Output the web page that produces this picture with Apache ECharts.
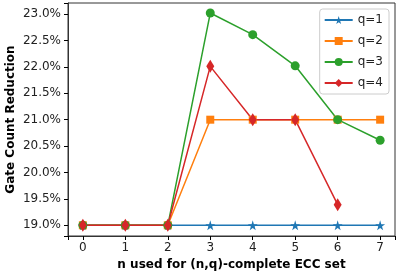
<!DOCTYPE html>
<html>
<head>
<meta charset="utf-8">
<script src="https://cdn.jsdelivr.net/npm/echarts@6/dist/echarts.min.js"></script>
<style>html,body{margin:0;padding:0;background:#fff}#c{width:399px;height:276px}</style>
</head>
<body>
<div id="c"></div>
<script>
var nValues = [0, 1, 2, 3, 4, 5, 6, 7];
var q1 = [19.0, 19.0, 19.0, 19.0, 19.0, 19.0, 19.0, 19.0];
var q2 = [19.0, 19.0, 19.0, 21.0, 21.0, 21.0, 21.0, 21.0];
var q3 = [19.0, 19.0, 19.0, 23.02, 22.61, 22.02, 21.0, 20.61];
var q4 = [19.0, 19.0, 19.0, 22.01, 21.0, 21.0, 19.39];
var yTicks = [19.0, 19.5, 20.0, 20.5, 21.0, 21.5, 22.0, 22.5, 23.0];
var seriesNames = ['q=1', 'q=2', 'q=3', 'q=4'];

var STAR = 'path://M50,0 L61,35 L98,35 L68,57 L79,91 L50,70 L21,91 L32,57 L2,35 L39,35 Z';
function pairs(vals){ return vals.map(function(v,i){ return [nValues[i], v]; }); }
var F = 'DejaVu Sans';
var chart = echarts.init(document.getElementById('c'), null, {renderer:'canvas'});
function mk(name, vals, color, symbol, size){
  return {name:name, type:'line', data:pairs(vals), symbol:symbol, symbolSize:size,
    showAllSymbol:true, animation:false,
    lineStyle:{color:color, width:1.5}, itemStyle:{color:color, borderWidth:0}};
}
chart.setOption({
  animation:false,
  grid:{left:68, right:4, top:3, bottom:40, outerBoundsMode:'none', containLabel:false,
    show:true, borderColor:'#333', borderWidth:1, backgroundColor:'transparent'},
  xAxis:{type:'value', min:-0.35, max:7.35, splitNumber:8,
    name:'n used for (n,q)-complete ECC set', nameLocation:'middle', nameGap:23, nameMoveOverlap:false,
    nameTextStyle:{fontFamily:F, fontWeight:'bold', fontSize:12, color:'#000'},
    axisLine:{show:true, onZero:false, lineStyle:{color:'#333', width:1}}, splitLine:{show:false},
    axisTick:{show:true, length:4, inside:false, lineStyle:{color:'#000', width:1}},
    axisLabel:{customValues:nValues, fontFamily:F, fontSize:12, color:'#222', margin:6}},
  yAxis:{type:'value', min:18.797, max:23.21, splitNumber:9,
    name:'Gate Count Reduction', nameLocation:'middle', nameGap:51, nameRotate:90, nameMoveOverlap:false,
    nameTextStyle:{fontFamily:F, fontWeight:'bold', fontSize:12, color:'#000'},
    axisLine:{show:true, onZero:false, lineStyle:{color:'#333', width:1}}, splitLine:{show:false},
    axisTick:{show:true, length:4, inside:false, lineStyle:{color:'#000', width:1}},
    axisLabel:{customValues:yTicks, fontFamily:F, fontSize:12, color:'#222', margin:7,
      formatter:function(v){ return v.toFixed(1)+'%'; }}},
  legend:{orient:'vertical', right:10, top:9, itemWidth:28, itemHeight:10, itemGap:9,
    backgroundColor:'#fff', borderColor:'#ccc', borderWidth:1, borderRadius:3, padding:[5,6,5,4],
    textStyle:{fontFamily:F, fontSize:12, color:'#222'}, data:seriesNames},
  series:[
    mk(seriesNames[0], q1, '#1f77b4', STAR, 10),
    mk(seriesNames[1], q2, '#ff7f0e', 'rect', 8),
    mk(seriesNames[2], q3, '#2ca02c', 'circle', 9),
    mk(seriesNames[3], q4, '#d62728', 'diamond', [8,13])
  ]
});
</script>
</body>
</html>
